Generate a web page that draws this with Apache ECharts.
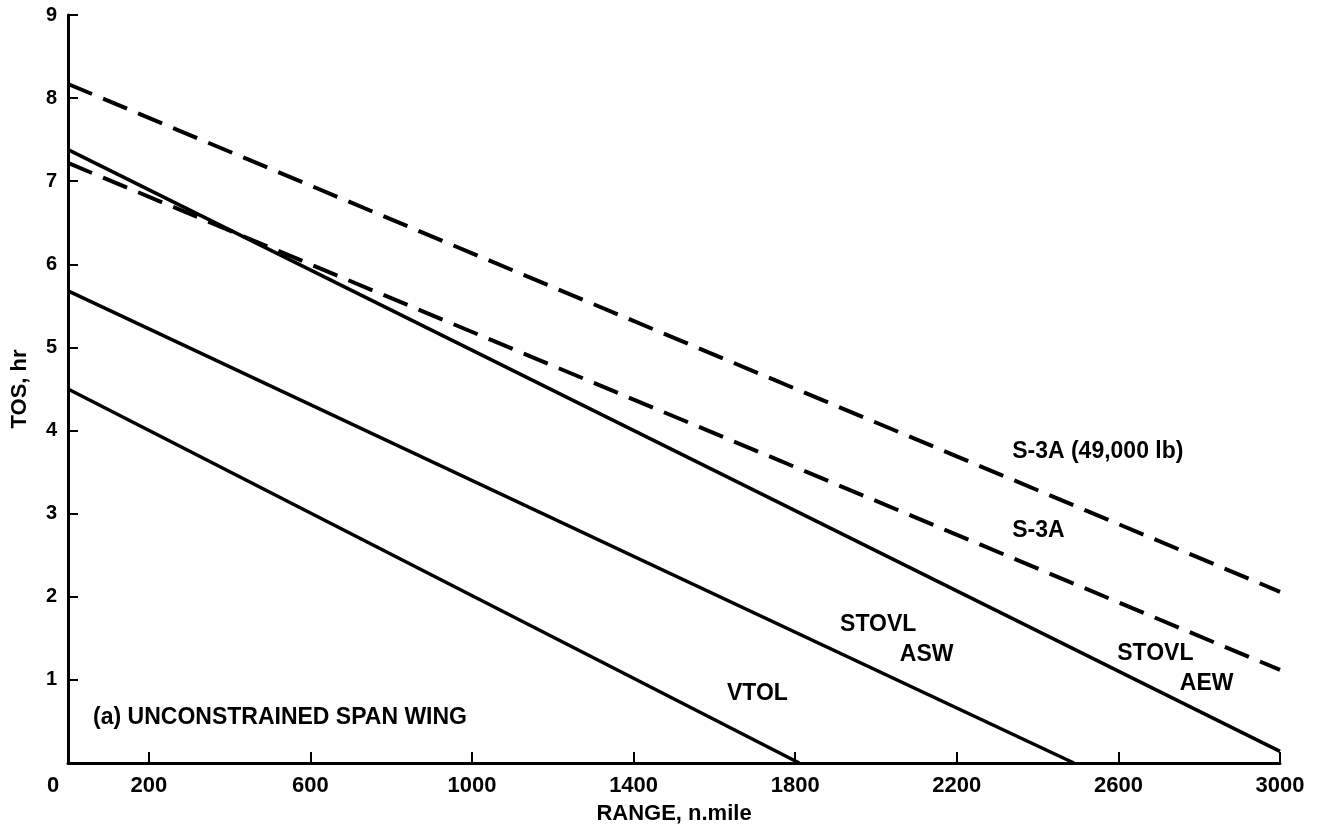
<!DOCTYPE html>
<html>
<head>
<meta charset="utf-8">
<script src="https://cdn.jsdelivr.net/npm/echarts@6/dist/echarts.min.js"></script>
<style>
  html, body { margin: 0; padding: 0; background: #fff; }
  #chart { width: 1321px; height: 830px; }
</style>
</head>
<body>
<div id="chart"></div>
<script>
// Time on station versus mission range, straight-line fits per aircraft type
var rangeTicks = [200, 600, 1000, 1400, 1800, 2200, 2600, 3000];
var rangeLabels = [0, 200, 600, 1000, 1400, 1800, 2200, 2600, 3000];

var vtol      = [[0, 4.50], [1810, 0]];
var stovlAsw  = [[0, 5.68], [2490, 0]];
var stovlAew  = [[0, 7.38], [3000, 0.14]];
var s3a       = [[0, 7.22], [3000, 1.12]];
var s3aHeavy  = [[0, 8.17], [3000, 2.06]];

// Text annotations placed in data coordinates (left edge, vertical middle)
var notes = [
  { text: 'S-3A (49,000 lb)', at: [2337, 3.75] },
  { text: 'S-3A', at: [2337, 2.79] },
  { text: 'STOVL', at: [2597, 1.32] },
  { text: 'AEW', at: [2752, 0.96] },
  { text: 'STOVL', at: [1911, 1.66] },
  { text: 'ASW', at: [2059, 1.30] },
  { text: 'VTOL', at: [1631, 0.83] },
  { text: '(a) UNCONSTRAINED SPAN WING', at: [62, 0.54] }
];

var FONT = '"Liberation Sans", Arial, Helvetica, sans-serif';
var chart = echarts.init(document.getElementById('chart'));

function lineSeries(name, data, dashed) {
  return {
    name: name,
    type: 'line',
    data: data,
    symbol: 'none',
    silent: true,
    animation: false,
    lineStyle: dashed
      ? { color: '#000', width: 4, type: [26, 12] }
      : { color: '#000', width: 3.5 }
  };
}

chart.setOption({
  animation: false,
  backgroundColor: '#fff',
  grid: { left: 68, right: 41, top: 15, bottom: 66, containLabel: false },
  xAxis: {
    type: 'value',
    min: 0,
    max: 3000,
    name: 'RANGE, n.mile',
    nameLocation: 'middle',
    nameGap: 40,
    nameTextStyle: { fontFamily: FONT, fontWeight: 'bold', fontSize: 22, color: '#000' },
    axisLine: { show: true, lineStyle: { color: '#000', width: 3 } },
    axisTick: { show: true, inside: true, length: 11, lineStyle: { color: '#000', width: 2 }, customValues: rangeTicks },
    axisLabel: {
      customValues: rangeLabels,
      margin: 12,
      color: '#000',
      fontFamily: FONT,
      fontWeight: 'bold',
      fontSize: 22,
      formatter: function (v) { return v === 0 ? '{o|0}' : String(v); },
      rich: { o: { padding: [0, 30, 0, 0], fontFamily: FONT, fontWeight: 'bold', fontSize: 22, color: '#000' } }
    },
    splitLine: { show: false }
  },
  yAxis: {
    type: 'value',
    min: 0,
    max: 9,
    interval: 1,
    name: 'TOS, hr',
    nameLocation: 'middle',
    nameGap: 37,
    nameRotate: 90,
    nameTextStyle: { fontFamily: FONT, fontWeight: 'bold', fontSize: 22, color: '#000' },
    axisLine: { show: true, lineStyle: { color: '#000', width: 3 } },
    axisTick: { show: true, inside: true, length: 10, lineStyle: { color: '#000', width: 2 } },
    axisLabel: {
      showMinLabel: false,
      margin: 11,
      color: '#000',
      fontFamily: FONT,
      fontWeight: 'bold',
      fontSize: 20
    },
    splitLine: { show: false }
  },
  series: [
    lineSeries('VTOL', vtol, false),
    lineSeries('STOVL ASW', stovlAsw, false),
    lineSeries('STOVL AEW', stovlAew, false),
    lineSeries('S-3A', s3a, true),
    lineSeries('S-3A (49,000 lb)', s3aHeavy, true)
  ]
});

// Place annotation text through the axis scales
chart.setOption({
  graphic: notes.map(function (n) {
    var p = chart.convertToPixel({ gridIndex: 0 }, n.at);
    return {
      type: 'text',
      x: p[0],
      y: p[1],
      silent: true,
      style: {
        text: n.text,
        fill: '#000',
        font: 'bold 23px ' + FONT,
        verticalAlign: 'middle',
        align: 'left'
      }
    };
  })
});
</script>
</body>
</html>
